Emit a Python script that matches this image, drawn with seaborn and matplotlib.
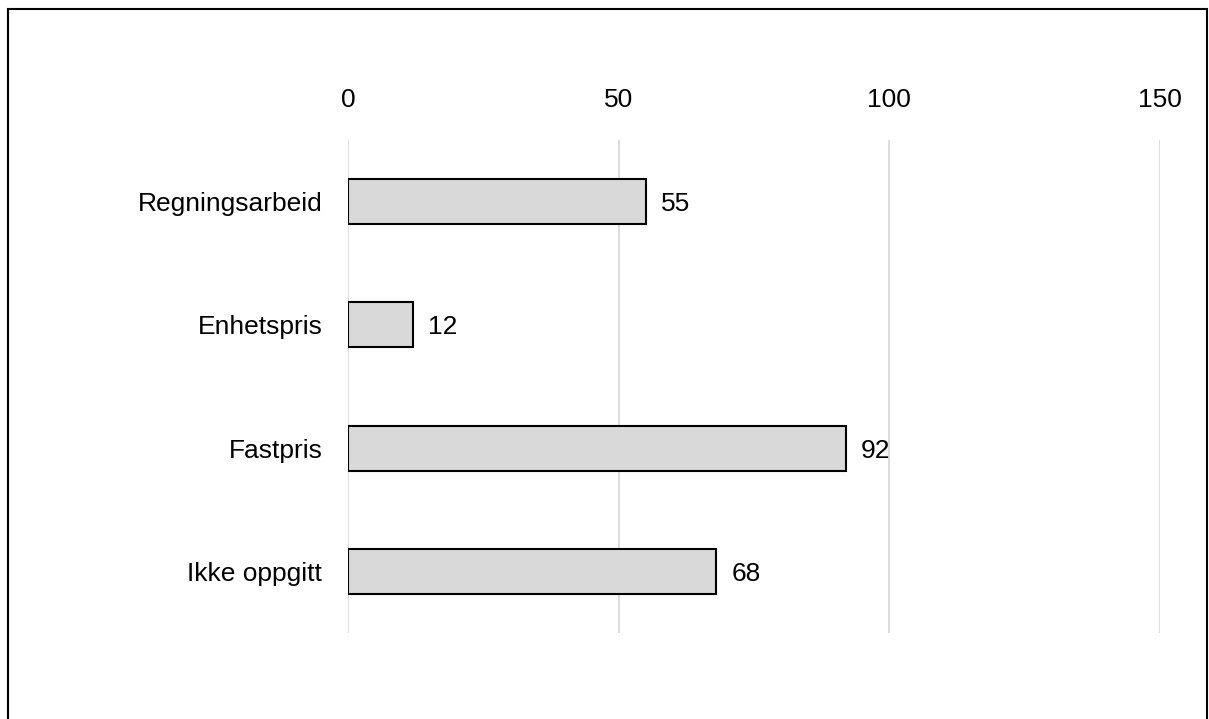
import pandas as pd
import seaborn as sns
import matplotlib.pyplot as plt
from matplotlib.patches import Rectangle


# Data
kategorier = ['Regningsarbeid', 'Enhetspris', 'Fastpris', 'Ikke oppgitt']
antall = [55, 12, 92, 68]
x_ticks = [0, 50, 100, 150]


def main():
    df = pd.DataFrame({'kategori': kategorier, 'antall': antall})

    sns.set_theme(style="white")
    plt.rcParams['font.family'] = ['Liberation Sans', 'DejaVu Sans']

    fig = plt.figure(figsize=(12.09, 7.19), dpi=100)
    ax = fig.add_axes([348 / 1209, 1 - 633 / 719, 812 / 1209, 493 / 719])

    sns.barplot(data=df, y='kategori', x='antall', ax=ax, color='#d9d9d9',
                edgecolor='black', linewidth=1.5, width=0.365, saturation=1,
                orient='h', zorder=3)

    ax.set_xlim(0, 150)
    ax.set_xticks(x_ticks)
    ax.xaxis.tick_top()
    ax.tick_params(axis='x', length=0, pad=20, labelsize=19, labelcolor='black')
    ax.tick_params(axis='y', length=0, pad=18.5, labelsize=19, labelcolor='black')
    ax.grid(axis='x', color='#d9d9d9', linewidth=1.3, zorder=0)
    ax.grid(axis='y', visible=False)
    ax.set_xlabel('')
    ax.set_ylabel('')
    for s in ax.spines.values():
        s.set_visible(False)

    # Verdier ved enden av stolpene
    for i, v in enumerate(antall):
        ax.text(v + 2.8, i + 0.02, str(v), va='center', ha='left', fontsize=19, color='black')

    # Ramme rundt figuren
    fig.patches.append(Rectangle((8 / 1209, -0.01), 1199 / 1209, 1 - 9 / 719 + 0.01,
                                 transform=fig.transFigure, fill=False,
                                 edgecolor='black', linewidth=1.5))

    fig.savefig('out.png', dpi=100, facecolor='white')


if __name__ == '__main__':
    main()
